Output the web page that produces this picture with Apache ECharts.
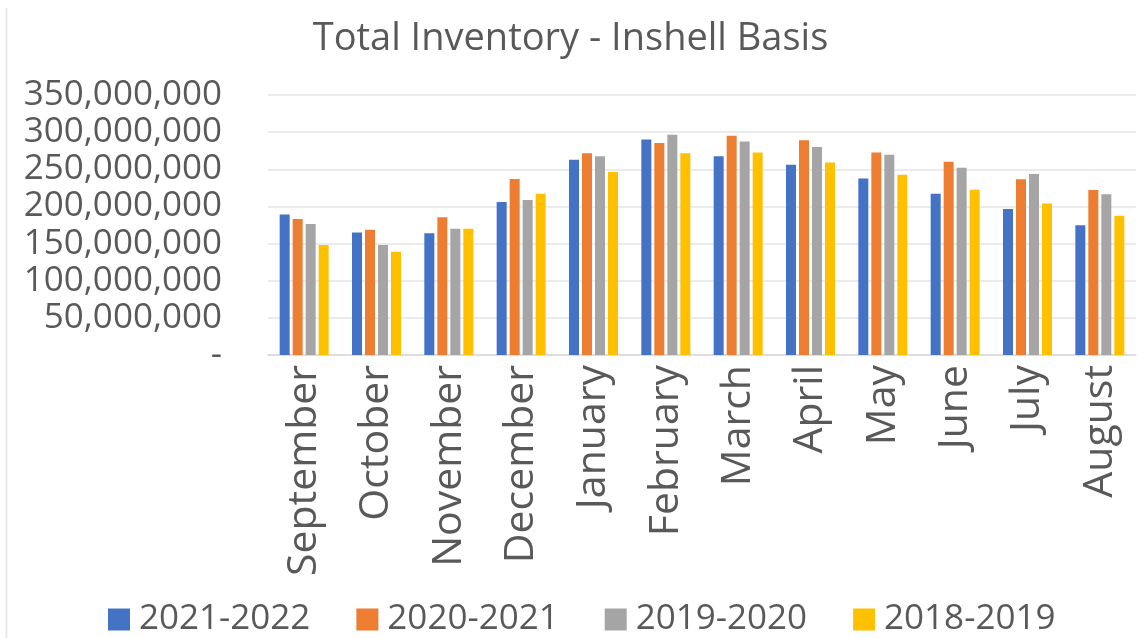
<!DOCTYPE html>
<html>
<head>
<meta charset="utf-8">
<script src="https://cdn.jsdelivr.net/npm/echarts@6/dist/echarts.min.js"></script>
<style>
html,body{margin:0;padding:0;background:#fff;}
#main{width:1141px;height:638px;}
</style>
</head>
<body>
<div id="main"></div>
<script>
const categories = ['September','October','November','December','January','February','March','April','May','June','July','August'];
const seriesNames = ['2021-2022','2020-2021','2019-2020','2018-2019'];
const s2021_2022 = [189000000,165000000,164000000,206000000,263000000,290000000,267500000,256000000,237500000,217000000,196500000,174500000];
const s2020_2021 = [183000000,168500000,185500000,237000000,271500000,285500000,295000000,289000000,272500000,260000000,236500000,222000000];
const s2019_2020 = [176500000,148000000,170000000,208500000,267500000,296500000,287500000,280000000,269500000,252000000,243500000,216500000];
const s2018_2019 = [148000000,139000000,170000000,217000000,246500000,271500000,272500000,259000000,242500000,222500000,204000000,187500000];
const colors = ['#4472C4','#ED7D31','#A5A5A5','#FFC000'];
const FONT = 'Open Sans';
const TXT = '#595959';

const chart = echarts.init(document.getElementById('main'));
const data = [s2021_2022, s2020_2021, s2019_2020, s2018_2019];
chart.setOption({
  animation:false,
  textStyle:{fontFamily:FONT},
  graphic:[{type:'line',shape:{x1:6.5,y1:8,x2:6.5,y2:638},style:{stroke:'#E3E3E3',lineWidth:1.5}}],
  title:{text:'Total Inventory - Inshell Basis',left:'center',top:15,
    textStyle:{fontFamily:FONT,fontSize:38,fontWeight:'normal',color:TXT}},
  grid:{left:268,right:5,top:95,bottom:283,containLabel:false},
  legend:{top:602,left:108,padding:0,itemWidth:22,itemHeight:22,itemGap:46,icon:'rect',
    textStyle:{fontFamily:FONT,fontSize:35,color:TXT,padding:[0,0,0,4]}},
  xAxis:{type:'category',data:categories,
    axisLine:{lineStyle:{color:'#D9D9D9',width:1.5}},axisTick:{show:false},
    axisLabel:{rotate:90,fontSize:41,color:TXT,margin:10,interval:0}},
  yAxis:{type:'value',min:0,max:350000000,interval:50000000,
    axisLine:{show:false},axisTick:{show:false},
    splitLine:{lineStyle:{color:'#E5E5E5',width:1.5}},
    axisLabel:{fontSize:35,color:TXT,margin:46,
      formatter:v=>v===0?'-':v.toLocaleString('en-US')}},
  series:seriesNames.map((n,i)=>({name:n,type:'bar',data:data[i],barWidth:10,barGap:'30%',
    itemStyle:{color:colors[i]}}))
});
</script>
</body>
</html>
